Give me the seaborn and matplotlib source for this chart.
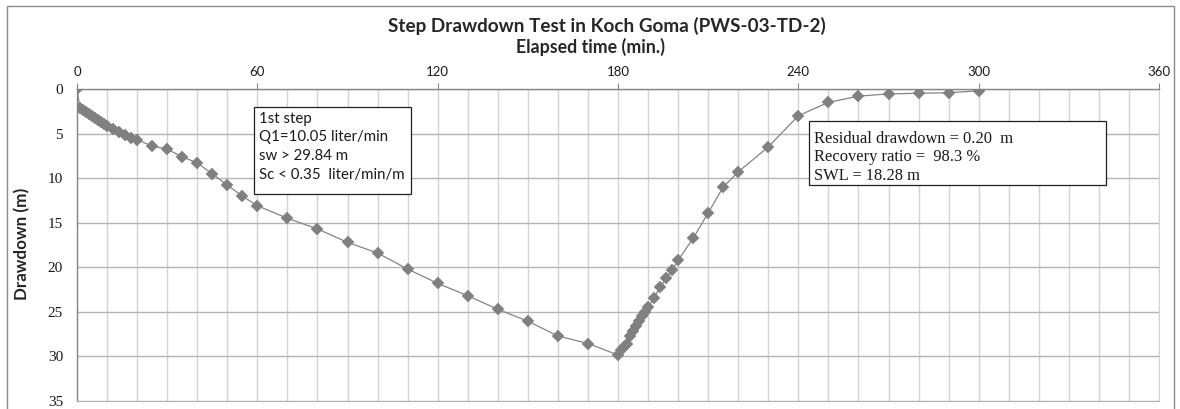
import matplotlib
matplotlib.use("Agg")
import matplotlib.pyplot as plt
from matplotlib.patches import Rectangle
from matplotlib.ticker import MultipleLocator
import seaborn as sns
import pandas as pd

# ---- data ----
time_min = [0, 1, 2, 3, 4, 5, 6, 7, 8, 9, 10, 12, 14, 16, 18, 20, 25, 30, 35, 40,
            45, 50, 55, 60, 70, 80, 90, 100, 110, 120, 130, 140, 150, 160, 170, 180,
            181, 182, 183, 184, 185, 186, 187, 188, 189, 190, 192, 194, 196, 198, 200,
            205, 210, 215, 220, 230, 240, 250, 260, 270, 280, 290, 300]
drawdown_m = [0.0, 2.15, 2.4, 2.6, 2.85, 3.05, 3.3, 3.5, 3.75, 3.95, 4.2, 4.5, 4.8, 5.2, 5.5, 5.7,
              6.4, 6.75, 7.6, 8.3, 9.5, 10.8, 12.0, 13.1, 14.5, 15.7, 17.2, 18.4, 20.2, 21.8,
              23.2, 24.7, 26.05, 27.7, 28.55, 29.84,
              29.3, 28.9, 28.6, 27.7, 27.1, 26.6, 26.0, 25.5, 25.0, 24.5, 23.4, 22.25, 21.25,
              20.3, 19.2, 16.75, 13.9, 11.0, 9.3, 6.5, 3.0, 1.5, 0.8, 0.55, 0.48, 0.42, 0.2]
x_ticks = [0, 60, 120, 180, 240, 300, 360]
y_ticks = [0, 5, 10, 15, 20, 25, 30, 35]
title = "Step Drawdown Test in Koch Goma (PWS-03-TD-2)"
x_label = "Elapsed time (min.)"
y_label = "Drawdown (m)"
box1_lines = ["1st step", "Q1=10.05 liter/min", "sw > 29.84 m", "Sc < 0.35  liter/min/m"]
box2_lines = ["Residual drawdown = 0.20  m", "Recovery ratio =  98.3 %", "SWL = 18.28 m"]

df = pd.DataFrame({"t": time_min, "s": drawdown_m})

sns.set_style("white")
plt.rcParams["font.family"] = ["Lato", "DejaVu Sans"]
SERIF = ["Liberation Serif", "DejaVu Serif"]

W, H = 1180, 409
fig = plt.figure(figsize=(W / 100, H / 100), dpi=100)
fig.patch.set_facecolor("white")
renderer = fig.canvas.get_renderer()


def fit_width(txt, target_px, horizontal=True):
    """Scale the font size so the rendered text spans target_px."""
    for _ in range(3):
        bb = txt.get_window_extent(renderer=renderer)
        cur = bb.width if horizontal else bb.height
        if cur > 0:
            txt.set_fontsize(txt.get_fontsize() * target_px / cur)


# chart-area border
fig.add_artist(Rectangle((7 / W, -0.05), (1174 - 7) / W, 1.05 - 6 / H,
                         transform=fig.transFigure, fill=False,
                         edgecolor="#8c8c8c", linewidth=1.0))

ax = fig.add_axes([77 / W, 1 - 401 / H, (1159 - 77) / W, (401 - 89) / H])

grid_major = "#b4b4b4"
grid_minor = "#d2d2d2"

sns.lineplot(data=df, x="t", y="s", ax=ax, color="#848484", linewidth=0.9,
             marker="D", markersize=6.5, markerfacecolor="#808080",
             markeredgecolor="#808080", markeredgewidth=0.3, zorder=5)

ax.set_xlim(0, 360)
ax.set_ylim(35, 0)
ax.xaxis.set_minor_locator(MultipleLocator(10))
ax.set_xticks(x_ticks)
ax.set_yticks(y_ticks)
ax.xaxis.tick_top()
ax.tick_params(axis="x", which="major", direction="out", length=4, width=0.8,
               color="#868686", labelsize=9.5, pad=4, labelcolor="#1a1a1a")
ax.tick_params(axis="x", which="minor", length=0)
ax.tick_params(axis="y", which="major", direction="out", length=4, width=0.8,
               color="#868686", labelsize=11, pad=6, labelcolor="#1a1a1a")
for lab in ax.get_yticklabels():
    lab.set_fontfamily(SERIF)
ax.grid(True, axis="x", which="both", color=grid_minor, linewidth=1.0)
ax.grid(True, axis="y", which="major", color=grid_major, linewidth=1.0)
ax.set_axisbelow(True)
ax.set_xlabel("")
ax.set_ylabel("")
for side in ["top", "left"]:
    ax.spines[side].set_visible(True)
    ax.spines[side].set_color("#868686")
    ax.spines[side].set_linewidth(1.0)
ax.spines["right"].set_color(grid_minor)
ax.spines["bottom"].set_color(grid_major)

# titles
t1 = fig.text(607 / W, 1 - 26 / H, title, ha="center", va="center",
              fontsize=12, fontweight="bold", color="#262626")
fit_width(t1, 438)
t2 = fig.text(590 / W, 1 - 47 / H, x_label, ha="center", va="center",
              fontsize=10, fontweight="bold", color="#262626")
fit_width(t2, 150)
t3 = fig.text(22 / W, 1 - 244 / H, y_label, ha="center", va="center", rotation=90,
              fontsize=10, fontweight="bold", color="#262626")
fit_width(t3, 113, horizontal=False)

# annotation boxes (data coords)
ax.add_patch(Rectangle((59.0, 2.0), 111.0 - 59.0, 11.8 - 2.0, facecolor="white",
                       edgecolor="#202020", linewidth=0.9, zorder=9))
ax.text(60.7, 2.55, "\n".join(box1_lines), ha="left", va="top",
        fontsize=10.8, linespacing=1.43, color="#1a1a1a", zorder=10)
ax.add_patch(Rectangle((243.7, 3.6), 342.3 - 243.7, 10.77 - 3.6, facecolor="white",
                       edgecolor="#202020", linewidth=0.9, zorder=9))
ax.text(245.3, 4.7, "\n".join(box2_lines), ha="left", va="top", fontsize=11.9,
        linespacing=1.21, color="#1a1a1a", zorder=10, family=SERIF)

fig.savefig("out.png", dpi=100)
